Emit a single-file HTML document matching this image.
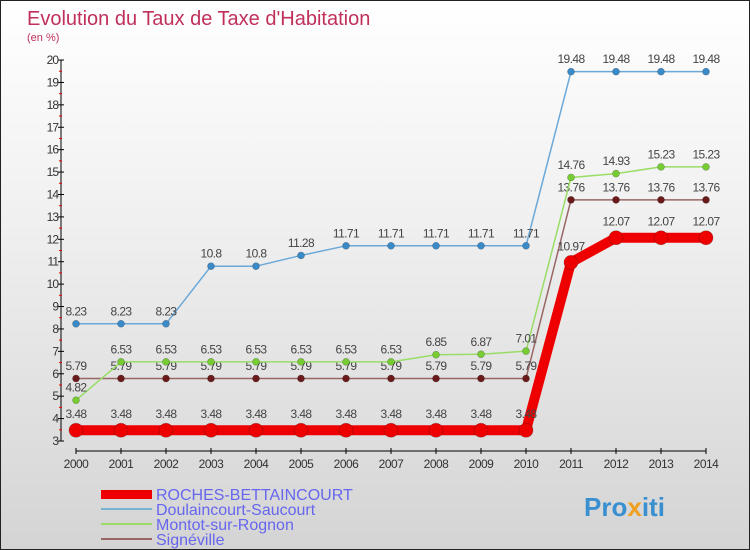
<!DOCTYPE html>
<html><head><meta charset="utf-8"><style>
body{margin:0}
#c{width:750px;height:550px;position:relative;overflow:hidden;box-sizing:border-box;border:1px solid #222;background:linear-gradient(#ffffff,#f0f0f0 40%,#d4d4d4);font-family:"Liberation Sans",sans-serif}
svg text{font-family:"Liberation Sans",sans-serif}
</style></head><body>
<div id="c">
<svg id="s" width="750" height="550">
<text x="26" y="24" font-size="20" fill="#c0305a">Evolution du Taux de Taxe d'Habitation</text>
<text x="26" y="40" font-size="11" fill="#c0305a">(en %)</text>
<g id="axes"></g><g id="plot"></g>
<g>
<rect x="100" y="489" width="51" height="9" fill="#e00"/>
<text x="155" y="499" font-size="16" fill="#6666ee">ROCHES-BETTAINCOURT</text>
<rect x="100" y="507" width="51" height="2" fill="#7ab0d0"/>
<text x="155" y="514" font-size="16" fill="#6666ee">Doulaincourt-Saucourt</text>
<rect x="100" y="522" width="51" height="2" fill="#99dd66"/>
<text x="155" y="529" font-size="16" fill="#6666ee">Montot-sur-Rognon</text>
<rect x="100" y="537" width="51" height="2" fill="#996666"/>
<text x="155" y="544" font-size="16" fill="#6666ee">Signéville</text>
</g>
<text x="583" y="515" font-size="26" font-weight="bold" fill="#3a8fd0">Pro<tspan fill="#f0a020">x</tspan>iti</text>
</svg>
</div>
<script>
const years=[2000,2001,2002,2003,2004,2005,2006,2007,2008,2009,2010,2011,2012,2013,2014];
const yTicks=[3,4,5,6,7,8,9,10,11,12,13,14,15,16,17,18,19,20];
const roches=[3.48,3.48,3.48,3.48,3.48,3.48,3.48,3.48,3.48,3.48,3.48,10.97,12.07,12.07,12.07];
const doulaincourt=[8.23,8.23,8.23,10.8,10.8,11.28,11.71,11.71,11.71,11.71,11.71,19.48,19.48,19.48,19.48];
const montot=[4.82,6.53,6.53,6.53,6.53,6.53,6.53,6.53,6.85,6.87,7.01,14.76,14.93,15.23,15.23];
const signeville=[5.79,5.79,5.79,5.79,5.79,5.79,5.79,5.79,5.79,5.79,5.79,13.76,13.76,13.76,13.76];
const NS='http://www.w3.org/2000/svg';
const xS=i=>75+45*i, yS=v=>440-(v-3)*22.41;
function mk(t,a,p){const e=document.createElementNS(NS,t);for(const k in a)e.setAttribute(k,a[k]);p.appendChild(e);return e;}
const ax=document.getElementById('axes'),pl=document.getElementById('plot');
let l=mk('line',{x1:60,y1:yS(20),x2:60,y2:yS(3),stroke:'#000'},ax);


l=mk('line',{x1:xS(0),y1:450,x2:xS(14),y2:450,stroke:'#000'},ax);


yTicks.forEach(v=>{
 mk('line',{x1:57,y1:yS(v),x2:63,y2:yS(v),stroke:'#000'},ax);
 if(v<20)mk('line',{x1:58,y1:yS(v+0.5),x2:61,y2:yS(v+0.5),stroke:'#e00'},ax);
 const t=mk('text',{x:57,y:yS(v)+4,'font-size':12,'text-anchor':'end',fill:'#333','letter-spacing':'-1'},ax);t.textContent=v;
 
 
});
years.forEach((y,i)=>{
 mk('line',{x1:xS(i),y1:447,x2:xS(i),y2:453,stroke:'#000'},ax);
 const t=mk('text',{x:xS(i),y:467,'font-size':12,'text-anchor':'middle',fill:'#333','letter-spacing':'-0.5'},ax);t.textContent=y;
 
 
});
function series(vals,name,color,dot,w,r){
 const g=mk('g',{},pl);
 
 
 mk('polyline',{points:vals.map((v,i)=>xS(i)+','+yS(v)).join(' '),fill:'none',stroke:color,'stroke-width':w,'stroke-linejoin':'round'},g);
 vals.forEach((v,i)=>{
  const c=mk('circle',{cx:xS(i),cy:yS(v),r:r,fill:dot,stroke:'rgba(0,0,0,0.25)','stroke-width':0.7},g);
  
  
  const t=mk('text',{x:xS(i),y:yS(v)-(r+5),'font-size':12,'text-anchor':'middle',fill:'#444','letter-spacing':'-0.6'},g);
  t.textContent=String(v);
  
  
 });
}
series(signeville,'signeville','#996666','#6a1a1a',1.5,3.5);
series(montot,'montot','#99dd66','#77cc33',1.5,3.5);
series(doulaincourt,'doulaincourt','#6aa8d8','#3a8ac8',1.5,3.5);
series(roches,'roches','#ee0000','#ee0000',10,7);
</script>
</body></html>
